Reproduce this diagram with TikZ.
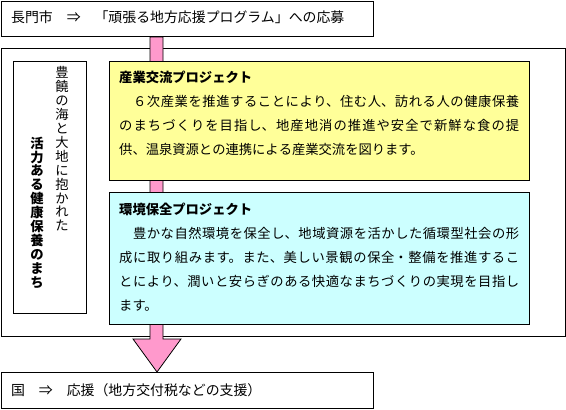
\documentclass[tikz,border=0pt]{standalone}
\usepackage{fontspec}
\usetikzlibrary{calc}
\newfontfamily\cjk{Noto Sans CJK JP}
\definecolor{pinkarrow}{HTML}{FF99CC}
\definecolor{yellowbox}{HTML}{FFFF99}
\definecolor{cyanbox}{HTML}{CCFFFF}
\XeTeXlinebreaklocale "ja"
\XeTeXlinebreakskip=0pt plus 3pt minus 0.45pt
\tolerance=9999
\tikzset{
  box/.style={draw=black, line width=0.9pt, inner sep=0pt, anchor=north west},
  linetext/.style={inner sep=0pt, anchor=base west, font={\cjk\fontsize{13.9}{16}\selectfont}},
  bodytext/.style={inner sep=0pt, anchor=north west, text width=400pt, align=justify,
    font={\cjk\fontsize{13.3}{24}\selectfont}},
  vcol/.style={inner sep=0pt, anchor=north, align=center,
    font={\cjk\fontsize{13.3}{13.9}\selectfont}},
}
\begin{document}
\begin{tikzpicture}[x=1pt,y=-1pt]
\useasboundingbox (0,0) rectangle (566,410);
% outer frame
\node[box, minimum width=564pt, minimum height=288pt] (outer) at (1,48) {};
% top and bottom boxes (shapes for anchors)
\node[box, minimum width=372pt, minimum height=35pt] (top) at (1,1) {};
\node[box, minimum width=372pt, minimum height=36pt] (bot) at (1,372) {};
% arrow
\draw[line width=0.8pt, fill=pinkarrow]
  ($(top.south west)+(149,0)$) -- ($(bot.north west)+(149,-33)$)
  -- ($(bot.north west)+(132,-33)$) -- ($(bot.north west)+(156,0)$)
  -- ($(bot.north west)+(180,-33)$) -- ($(bot.north west)+(162,-33)$)
  -- ($(top.south west)+(162,0)$) -- cycle;
% redraw top and bottom boxes over arrow ends
\node[box, fill=white, minimum width=372pt, minimum height=35pt] (topb) at (1,1) {};
\node[box, fill=white, minimum width=372pt, minimum height=36pt] (botb) at (1,372) {};
\node[linetext] (toptext) at (11,22.5) {長門市　⇒　「頑張る地方応援プログラム」への応募};
\node[linetext] (bottext) at (11,395) {国　⇒　応援（地方交付税などの支援）};
% left vertical box
\node[box, fill=white, minimum width=73pt, minimum height=252pt] (left) at (13,61) {};
\node[vcol] (vright) at (62,66.5) {豊\\饒\\の\\海\\と\\大\\地\\に\\抱\\か\\れ\\た};
\node[vcol, font={\cjk\bfseries\fontsize{13.3}{13.9}\selectfont}] (vleft) at (37,136.5) {活\\力\\あ\\る\\健\\康\\保\\養\\の\\ま\\ち};
% yellow project box
\node[box, fill=yellowbox, minimum width=420pt, minimum height=119.5pt] (yellow) at (109,60.5) {};
\node[bodytext] (ytext) at (119,71) {{\bfseries 産業交流プロジェクト}\\　６次産業を推進することにより、住む人、訪れる人の健康保養\linebreak のまちづくりを目指し、地産地消の推進や安全で新鮮な食の提\linebreak 供、温泉資源との連携による産業交流を図ります。};
% cyan project box
\node[box, fill=cyanbox, minimum width=420pt, minimum height=132pt] (cyan) at (109,192) {};
\node[bodytext] (ctext) at (119,203) {{\bfseries 環境保全プロジェクト}\\　豊かな自然環境を保全し、地域資源を活かした循環型社会の形\linebreak 成に取り組みます。また、美しい景観の保全・整備を推進するこ\linebreak とにより、潤いと安らぎのある快適なまちづくりの実現を目指し\linebreak ます。};
\end{tikzpicture}
\end{document}
